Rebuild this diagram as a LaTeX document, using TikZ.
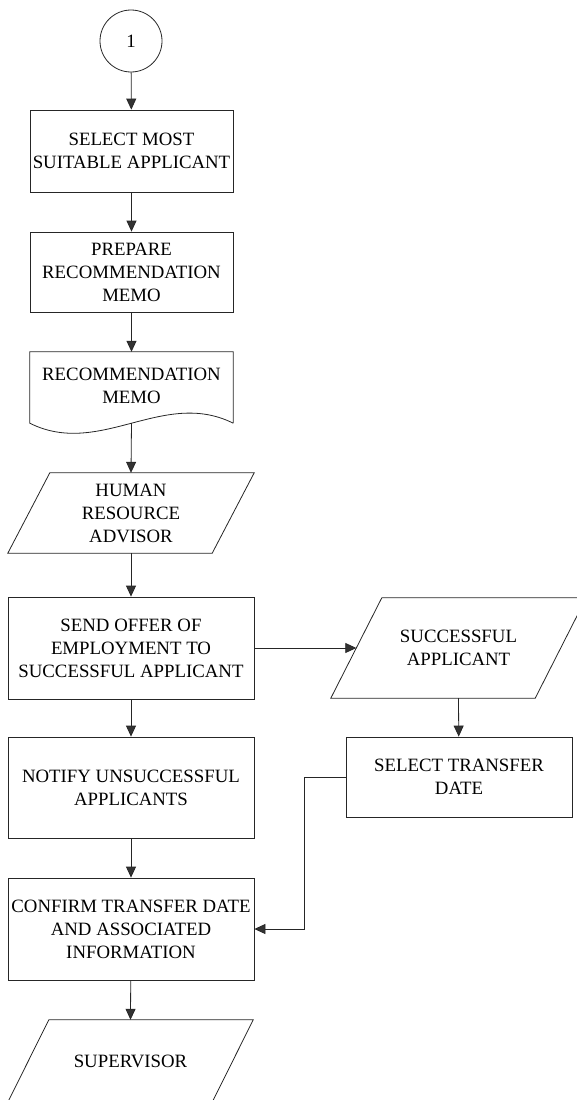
\documentclass[tikz,border=0pt]{standalone}
\usepackage{fontspec}
\setmainfont{Liberation Serif}
\usetikzlibrary{arrows.meta,calc}

\begin{document}
\begin{tikzpicture}[x=1pt,y=-1pt,
    line/.style={draw=black!85, line width=0.8pt},
    arr/.style={line, -{Triangle[length=11pt,width=10pt,fill=black!80]}},
    txt/.style={align=center, inner sep=0pt,
                font=\fontsize{18.8}{23}\selectfont},
    procbox/.style={txt, line, rectangle},
    area/.style={txt, rectangle}
  ]
  \useasboundingbox (0,0) rectangle (577,1100);

  % connector circle
  \node[txt, line, circle, minimum size=62] (c1) at (131,41) {1};

  % process boxes
  \node[procbox, minimum width=203, minimum height=82] (b1) at (131.5,151)
    {SELECT MOST\\SUITABLE APPLICANT};
  \node[procbox, minimum width=203, minimum height=80] (b2) at (131.5,272)
    {PREPARE\\RECOMMENDATION\\MEMO};

  % document shape with wavy bottom edge
  \node[area, minimum width=203, minimum height=71] (doc) at (131.5,387.5)
    {\raisebox{4pt}{\begin{tabular}{@{}c@{}}RECOMMENDATION\\MEMO\end{tabular}}};
  \draw[line] (doc.south east) -- (doc.north east) -- (doc.north west)
    -- (doc.south west)
    .. controls ($(doc.south west)+(70,35)$) and ($(doc.south east)+(-70,-35)$)
    .. (doc.south east);

  % input/output parallelogram: human resource advisor
  \node[area, minimum width=246, minimum height=80] (hr) at (131,513)
    {HUMAN\\RESOURCE\\ADVISOR};
  \draw[line] ($(hr.north west)+(42,0)$) -- (hr.north east)
    -- ($(hr.south east)+(-42,0)$) -- (hr.south west) -- cycle;

  \node[procbox, minimum width=246, minimum height=102] (send) at (131,648)
    {SEND OFFER OF\\EMPLOYMENT TO\\SUCCESSFUL APPLICANT};

  % input/output parallelogram: successful applicant
  \node[area, minimum width=255, minimum height=100] (succ) at (458.5,648)
    {SUCCESSFUL\\APPLICANT};
  \draw[line] ($(succ.north west)+(51,0)$) -- (succ.north east)
    -- ($(succ.south east)+(-51,0)$) -- (succ.south west) -- cycle;
  \coordinate (succin) at ($(succ.west)+(25.5,0)$);

  \node[procbox, minimum width=226, minimum height=80] (sel) at (459,777)
    {SELECT TRANSFER\\DATE};
  \node[procbox, minimum width=246, minimum height=101] (notify) at (131,787.5)
    {NOTIFY UNSUCCESSFUL\\APPLICANTS};
  \node[procbox, minimum width=246, minimum height=102] (conf) at (131,929)
    {CONFIRM TRANSFER DATE\\AND ASSOCIATED\\INFORMATION};

  % input/output parallelogram: supervisor
  \node[area, minimum width=245, minimum height=82] (sup) at (130.5,1061)
    {SUPERVISOR};
  \draw[line] ($(sup.north west)+(41,0)$) -- (sup.north east)
    -- ($(sup.south east)+(-41,0)$) -- (sup.south west) -- cycle;

  % connectors
  \draw[arr] (c1) -- (b1);
  \draw[arr] (b1) -- (b2);
  \draw[arr] (b2) -- (doc.north);
  \draw[arr] (doc.south) -- (hr.north);
  \draw[arr] (hr.south) -- (send);
  \draw[arr] (send.east) -- (succin);
  \draw[arr] (succ.south) -- (sel);
  \draw[arr] (send) -- (notify);
  \draw[arr] (notify) -- (conf);
  \draw[arr] (sel.west) -- ++(-41,0) |- (conf.east);
  \draw[arr] (conf) -- (sup.north);
\end{tikzpicture}
\end{document}
